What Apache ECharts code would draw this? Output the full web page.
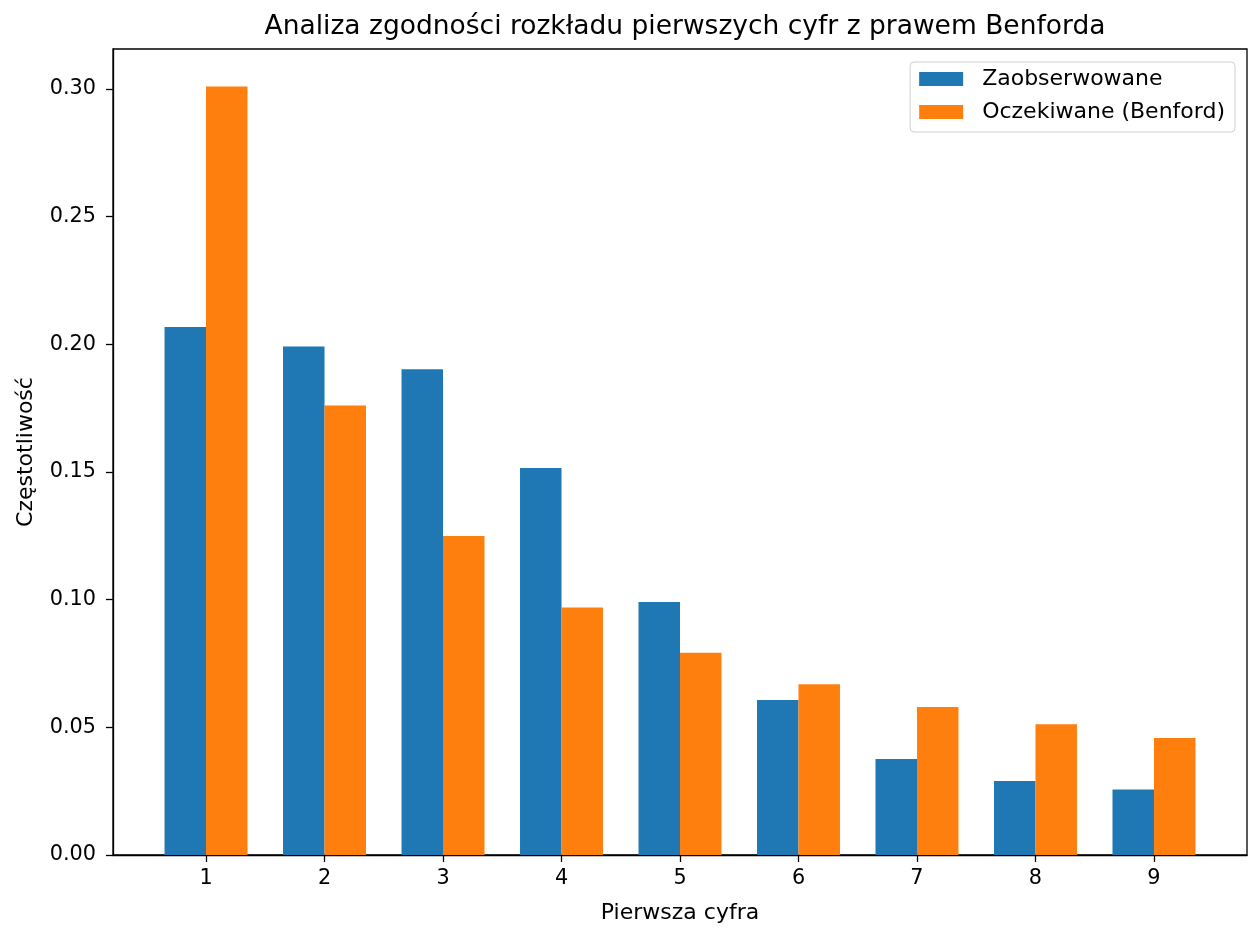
<!DOCTYPE html>
<html>
<head>
<meta charset="utf-8">
<script src="https://cdn.jsdelivr.net/npm/echarts@6/dist/echarts.min.js"></script>
<style>
html,body{margin:0;padding:0;background:#fff;}
#chart{width:1256px;height:950px;}
</style>
</head>
<body>
<div id="chart"></div>
<script>
const digits = [1, 2, 3, 4, 5, 6, 7, 8, 9];
const observed = [0.2068, 0.1992, 0.1903, 0.1516, 0.0991, 0.0607, 0.0376, 0.0290, 0.0257];
const expected = [0.3010, 0.1761, 0.1249, 0.0969, 0.0792, 0.0669, 0.0580, 0.0512, 0.0458];
const yTicks = [0, 0.05, 0.10, 0.15, 0.20, 0.25, 0.30];
const barOffset = 0.175;

const FONT = 'DejaVu Sans';
const FS = 20.8;
const FS_NAME = 22;

const chart = echarts.init(document.getElementById('chart'), null, {renderer: 'canvas'});
chart.setOption({
  backgroundColor: '#fff',
  animation: false,
  textStyle: {fontFamily: FONT},
  title: {
    text: 'Analiza zgodności rozkładu pierwszych cyfr z prawem Benforda',
    left: 680,
    textAlign: 'center',
    top: 9,
    textStyle: {fontFamily: FONT, fontSize: 26.5, fontWeight: 'normal', color: '#000'}
  },
  legend: {
    orient: 'vertical',
    right: 21,
    top: 62,
    padding: [6, 10, 9, 9],
    icon: 'rect',
    itemWidth: 44,
    itemHeight: 14,
    itemGap: 11,
    backgroundColor: '#fff',
    borderColor: '#d0d0d0',
    borderWidth: 1,
    borderRadius: 4,
    textStyle: {fontFamily: FONT, fontSize: FS_NAME, color: '#000', padding: [0, 0, 0, 14]},
    data: ['Zaobserwowane', 'Oczekiwane (Benford)']
  },
  grid: {
    left: 113, top: 49, right: 9, bottom: 95,
    show: true, borderColor: '#000', borderWidth: 1.3, backgroundColor: 'transparent'
  },
  xAxis: {
    type: 'value',
    min: 0.215,
    max: 9.785,
    splitLine: {show: false},
    axisLine: {show: true, lineStyle: {color: '#000', width: 1.3}},
    axisTick: {show: true, length: 7, lineStyle: {color: '#000', width: 1.3}, customValues: digits},
    axisLabel: {customValues: digits, fontFamily: FONT, fontSize: FS, color: '#000', margin: 13,
      formatter: v => String(v)},
    name: 'Pierwsza cyfra',
    nameLocation: 'middle',
    nameGap: 47,
    nameTextStyle: {fontFamily: FONT, fontSize: FS_NAME, color: '#000'}
  },
  yAxis: {
    type: 'value',
    min: 0,
    max: 0.3157,
    splitLine: {show: false},
    axisLine: {show: true, lineStyle: {color: '#000', width: 1.3}},
    axisTick: {show: true, length: 7, lineStyle: {color: '#000', width: 1.3}, customValues: yTicks},
    axisLabel: {customValues: yTicks, fontFamily: FONT, fontSize: FS, color: '#000', margin: 17,
      formatter: v => v.toFixed(2)},
    name: 'Częstotliwość',
    nameLocation: 'middle',
    nameRotate: 90,
    nameGap: 76,
    nameTextStyle: {fontFamily: FONT, fontSize: FS_NAME, color: '#000'}
  },
  series: [
    {
      name: 'Zaobserwowane',
      type: 'bar',
      barWidth: 41.5,
      barGap: '-100%',
      itemStyle: {color: '#1f77b4'},
      data: digits.map((d, i) => [d - barOffset, observed[i]])
    },
    {
      name: 'Oczekiwane (Benford)',
      type: 'bar',
      barWidth: 41.5,
      barGap: '-100%',
      itemStyle: {color: '#ff7f0e'},
      data: digits.map((d, i) => [d + barOffset, expected[i]])
    }
  ]
});
</script>
</body>
</html>
